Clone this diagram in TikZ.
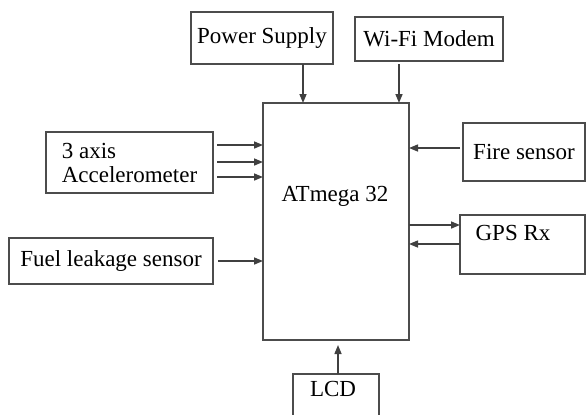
\documentclass[tikz,border=0pt]{standalone}
\usepackage{fontspec}
\setmainfont{Liberation Serif}
\usetikzlibrary{arrows.meta}

\begin{document}
\begin{tikzpicture}[x=0.5pt,y=-0.5pt,
    blk/.style={draw=black!70,line width=0.75pt,inner sep=0pt,outer sep=0pt,font=\fontsize{11.5}{12}\selectfont},
    lbl/.style={inner sep=0pt,font=\fontsize{11.5}{12}\selectfont},
    arr/.style={draw=black!75,line width=0.75pt,-{Triangle[length=4.5pt,width=3.5pt]}}]
    \useasboundingbox (0,0) rectangle (587,414);
    \node[blk,minimum width=71pt,minimum height=26pt] (pwr) at (262,38) {Power Supply};
    \node[blk,minimum width=74pt,minimum height=22pt] (wifi) at (429,39) {Wi-Fi Modem};
    \node[blk,minimum width=73pt,minimum height=118.5pt] (mcu) at (336,221.5) {};
    \node[lbl] (mcu-t) at (335,196) {ATmega 32};
    \node[blk,minimum width=83.5pt,minimum height=30.5pt,align=left] (acc) at (129.5,162.5) {3 axis\\Accelerometer};
    \node[blk,minimum width=102pt,minimum height=23pt] (fuel) at (111,261) {Fuel leakage sensor};
    \node[blk,minimum width=61pt,minimum height=29pt] (fire) at (524,152) {Fire sensor};
    \node[blk,minimum width=62.5pt,minimum height=29.5pt] (gps) at (522.5,244.5) {};
    \node[lbl] (gps-t) at (513,233) {GPS Rx};
    \node[blk,minimum width=43pt,minimum height=23pt] (lcd) at (336,397) {};
    \node[lbl] (lcd-t) at (333,389) {LCD};
    \coordinate (pwr-o) at ([xshift=20.5pt]pwr.south);
    \coordinate (wifi-o) at ([xshift=-15pt,yshift=-1.5pt]wifi.south);
    \coordinate (fuel-o) at ([xshift=2.5pt]fuel.east);
    \coordinate (fire-o) at ([xshift=-1.5pt,yshift=2pt]fire.west);
    \coordinate (gps-o) at ([yshift=9.75pt]gps.west);
    \coordinate (gps-i) at ([yshift=0.25pt]gps.west);
    \coordinate (lcd-o) at ([xshift=1pt]lcd.north);
    \draw[arr] (pwr-o) -- (pwr-o |- mcu.north);
    \draw[arr] (wifi-o) -- (wifi-o |- mcu.north);
    \foreach \dy [count=\i] in {8.75,0.25,-7.25} {
        \coordinate (acc-\i) at ([xshift=2pt,yshift=\dy pt]acc.east);
        \draw[arr] (acc-\i) -- (acc-\i -| mcu.west);
    }
    \draw[arr] (fuel-o) -- (fuel-o -| mcu.west);
    \draw[arr] (fire-o) -- (fire-o -| mcu.east);
    \draw[arr] (gps-o -| mcu.east) -- (gps-o);
    \draw[arr] (gps-i) -- (gps-i -| mcu.east);
    \draw[arr,shorten >=2.5pt] (lcd-o) -- (lcd-o |- mcu.south);
\end{tikzpicture}
\end{document}
